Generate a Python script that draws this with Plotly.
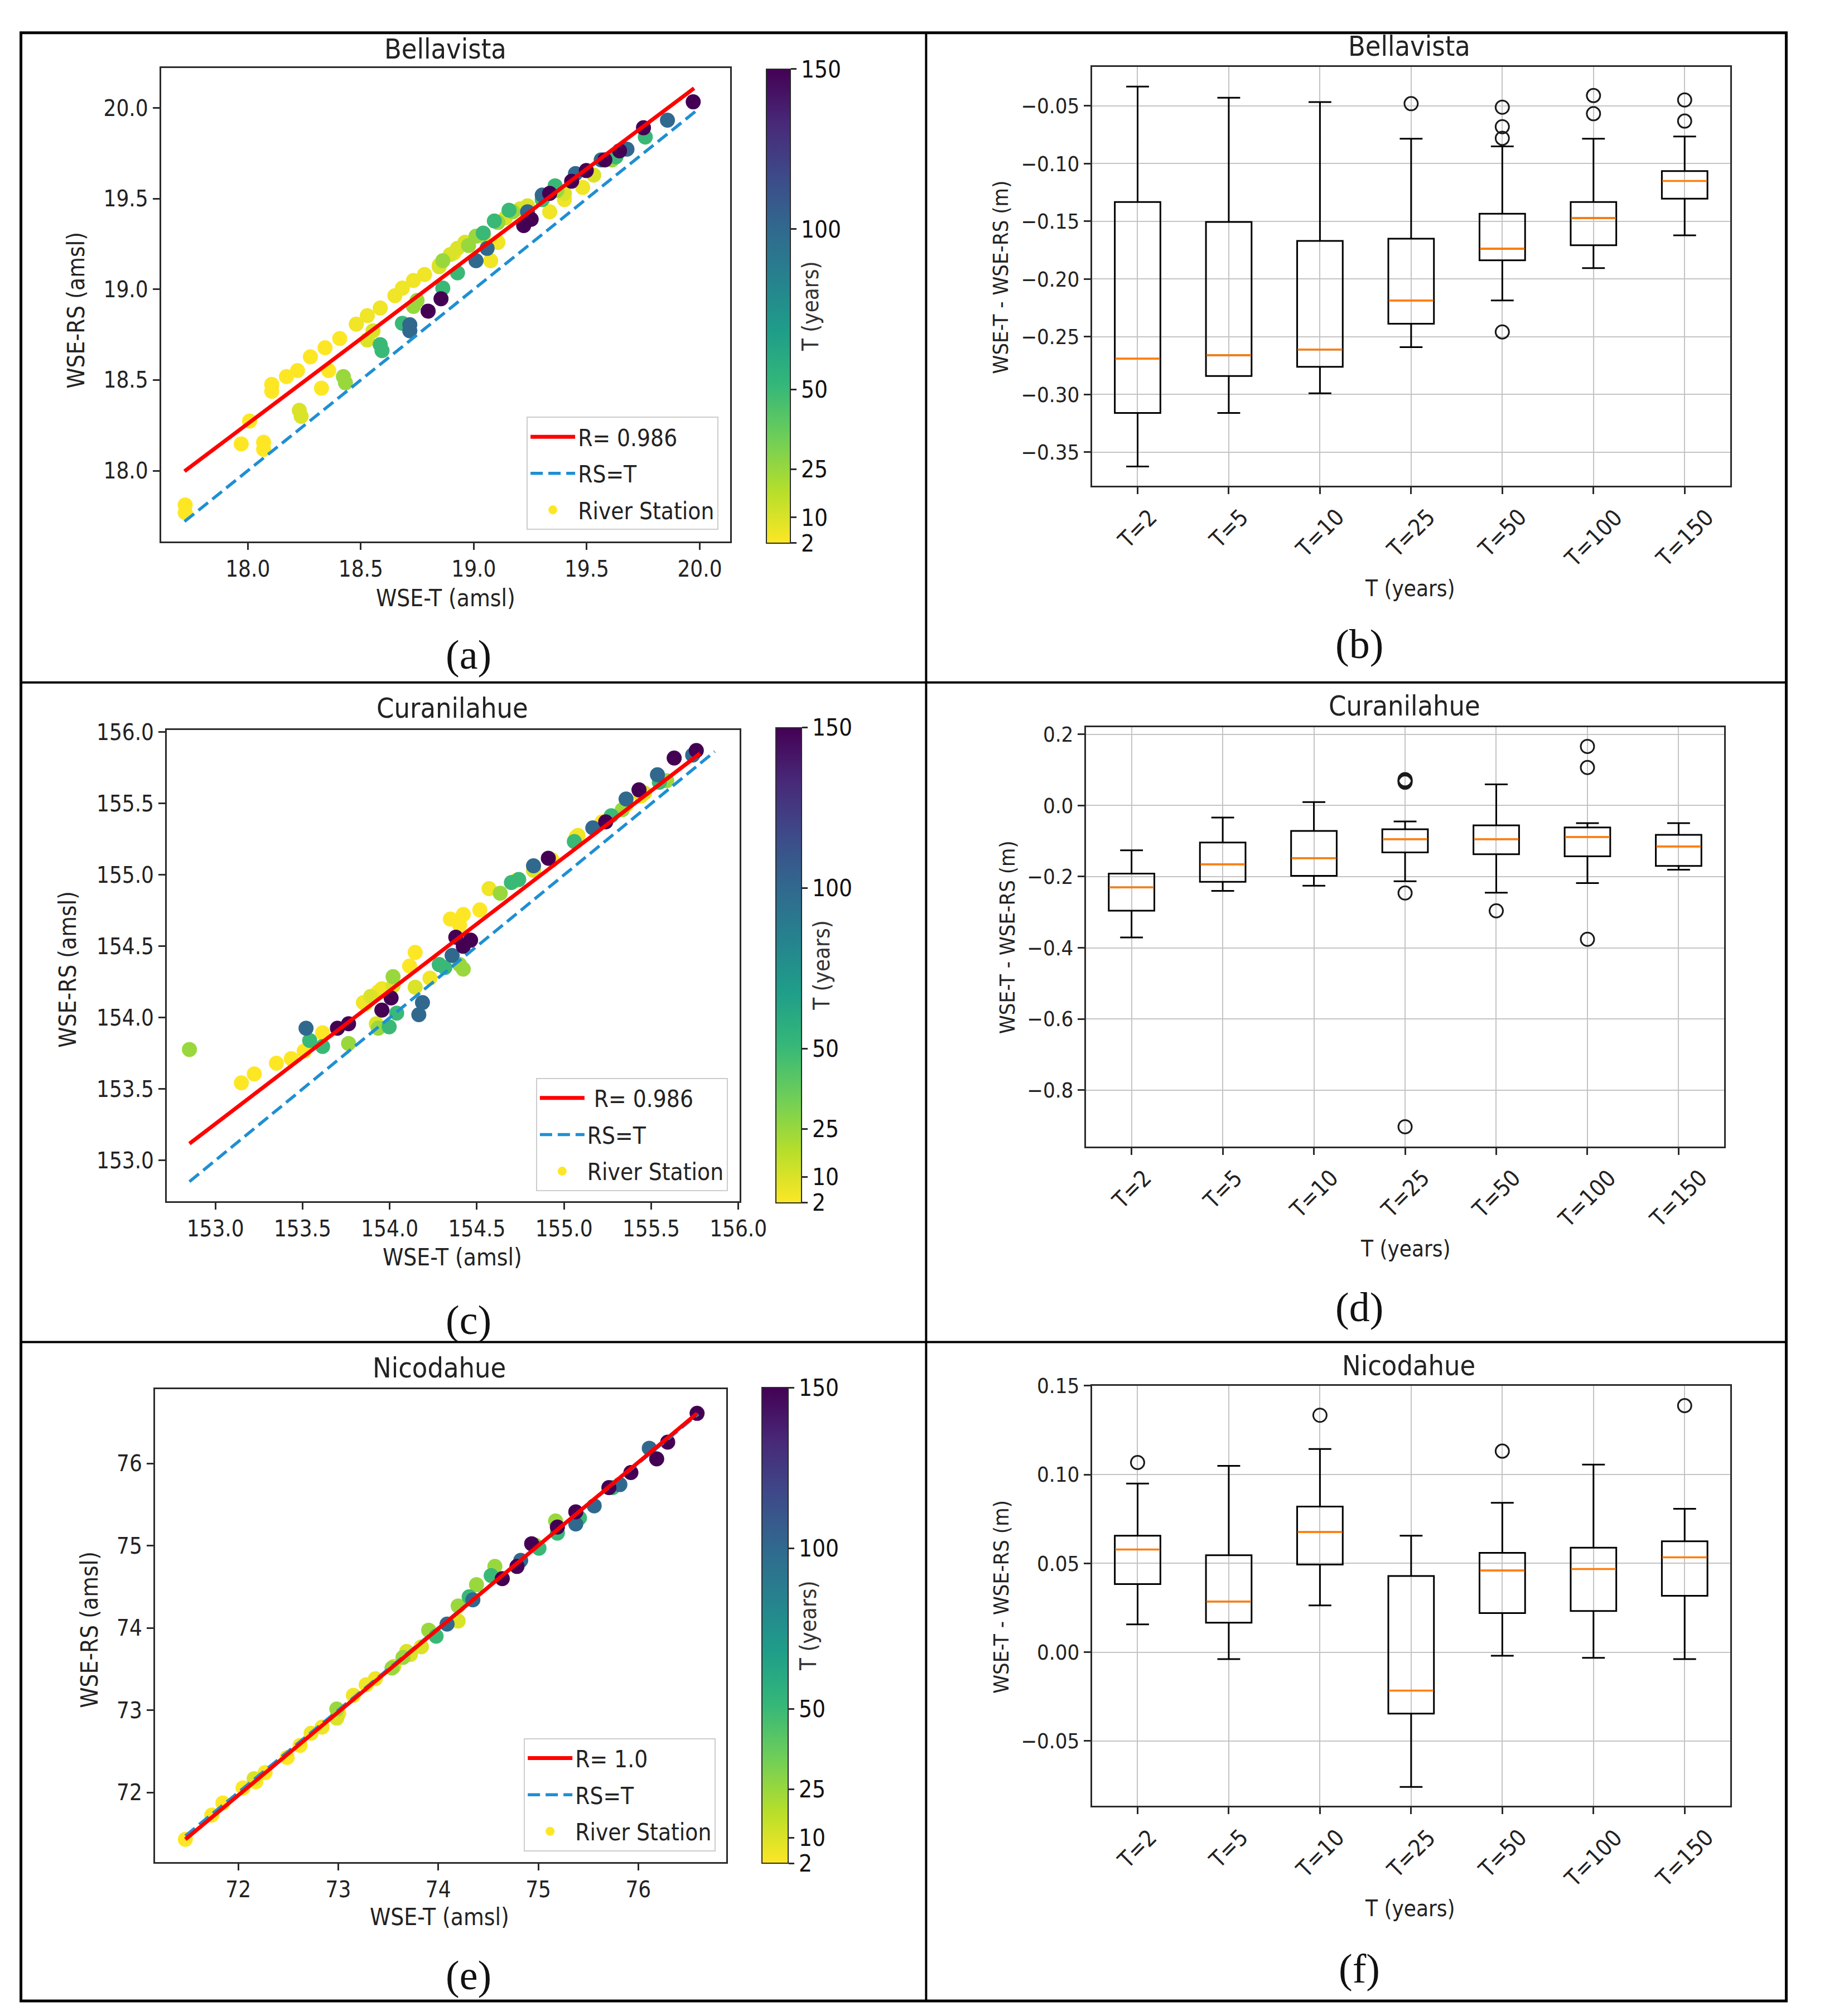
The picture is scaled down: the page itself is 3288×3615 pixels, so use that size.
import plotly.graph_objects as go

# ---------------------------------------------------------------- geometry helpers
W, H, OFF = 3272, 3599, 8


def px(X):
    return (X - OFF) / W


def py(Y):
    return 1 - (Y - OFF) / H


FONT = "DejaVu Sans Condensed, Liberation Sans Narrow, DejaVu Sans, sans-serif"
SERIF = "Liberation Serif, DejaVu Serif, serif"
TXT = "#222222"
TICK = 40

# ---------------------------------------------------------------- data
categories = ["T=2", "T=5", "T=10", "T=25", "T=50", "T=100", "T=150"]
cbar_ticks = [2, 10, 25, 50, 100, 150]

# Bellavista scatter (WSE-T, WSE-RS, T)
bella_x = [17.723, 17.723, 17.971, 18.008, 18.070, 18.070, 18.106, 18.106, 18.171, 18.220, 18.277, 18.342, 18.326, 18.358, 18.407,
           18.480, 18.529, 18.586, 18.651, 18.684, 18.733, 18.782, 18.847, 18.912, 18.961, 19.075, 19.107, 19.336, 19.401, 19.482,
           18.228, 18.236, 18.529, 18.554, 18.847, 18.896, 18.928, 18.961, 19.042, 19.140, 19.205, 19.238, 19.401, 19.531,
           18.423, 18.432, 18.733, 18.749, 18.863, 18.977, 19.010, 19.107, 19.173, 19.368, 19.612,
           18.586, 18.594, 18.684, 18.863, 18.928, 19.042, 19.091, 19.156, 19.303, 19.360, 19.629, 19.759,
           18.717, 18.717, 19.010, 19.059, 19.238, 19.303, 19.450, 19.564, 19.678, 19.857,
           18.798, 18.855, 19.221, 19.254, 19.336, 19.433, 19.498, 19.580, 19.645, 19.751, 19.971]
bella_y = [17.811, 17.769, 18.148, 18.274, 18.157, 18.118, 18.476, 18.438, 18.519, 18.552, 18.628, 18.678, 18.455, 18.552, 18.729,
           18.808, 18.855, 18.897, 18.965, 19.007, 19.049, 19.082, 19.133, 19.200, 19.251, 19.158, 19.259, 19.428, 19.495, 19.562,
           18.333, 18.300, 18.721, 18.771, 19.125, 19.192, 19.226, 19.259, 19.293, 19.394, 19.444, 19.461, 19.529, 19.630,
           18.519, 18.485, 18.906, 18.939, 19.158, 19.242, 19.293, 19.369, 19.428, 19.545, 19.714,
           18.695, 18.662, 18.813, 19.007, 19.091, 19.310, 19.377, 19.436, 19.495, 19.571, 19.731, 19.840,
           18.805, 18.771, 19.158, 19.226, 19.428, 19.520, 19.638, 19.714, 19.773, 19.933,
           18.880, 18.948, 19.352, 19.386, 19.529, 19.596, 19.655, 19.714, 19.764, 19.891, 20.034]
bella_T = [2] * 15 + [5] * 15 + [10] * 14 + [25] * 11 + [50] * 12 + [100] * 10 + [150] * 11
bella_fit_x = [17.72, 19.975]
bella_fit_y = [17.997, 20.109]
bella_ident = [17.72, 19.98]

# Curanilahue scatter
cura_x = [153.149, 153.223, 153.350, 153.435, 153.509, 153.615, 153.860, 153.934, 154.114, 154.146, 154.348, 154.422, 154.401,
          154.517, 154.719, 154.931, 155.069, 155.218, 155.356,
          153.849, 153.955, 154.231, 154.570, 155.080, 155.441,
          153.891, 154.019, 154.146, 153.923, 154.825, 155.462,
          152.851, 153.764, 154.019, 154.401, 154.422, 154.634, 155.334, 155.589, 153.934,
          153.541, 153.615, 153.997, 154.040, 154.284, 154.316, 154.698, 154.740, 155.059, 155.271, 155.547,
          153.520, 154.188, 154.167, 154.358, 154.825, 155.165, 155.356, 155.536, 155.738,
          153.700, 153.764, 153.955, 154.008, 154.379, 154.422, 154.464, 154.910, 155.239, 155.430, 155.632, 155.759]
cura_y = [153.543, 153.606, 153.681, 153.713, 153.766, 153.894, 154.096, 154.181, 154.362, 154.457, 154.691, 154.723, 154.649,
          154.755, 154.957, 155.106, 155.266, 155.372, 155.489,
          154.106, 154.202, 154.277, 154.904, 155.277, 155.553,
          154.149, 154.223, 154.213, 153.957, 155.032, 155.574,
          153.777, 153.819, 154.287, 154.372, 154.340, 154.872, 155.457, 155.660, 153.926,
          153.840, 153.798, 153.936, 154.032, 154.372, 154.351, 154.947, 154.968, 155.234, 155.415, 155.649,
          153.926, 154.106, 154.021, 154.436, 155.064, 155.330, 155.532, 155.702, 155.840,
          153.926, 153.957, 154.053, 154.138, 154.564, 154.500, 154.543, 155.117, 155.372, 155.596, 155.819, 155.872]
cura_T = [2] * 19 + [5] * 6 + [10] * 6 + [25] * 9 + [50] * 11 + [100] * 9 + [150] * 12
cura_fit_x = [152.851, 155.78]
cura_fit_y = [153.117, 155.851]
cura_ident = [152.851, 155.865]

# Nicodahue scatter
nico_x = [71.471, 71.735, 71.846, 72.048, 72.176, 72.268, 72.489, 72.618,
          72.728, 72.838, 73.004, 73.151, 73.279, 73.371,
          73.555, 73.684, 73.831, 74.199, 72.158, 72.985, 73.721,
          72.985, 73.537, 73.647, 73.904, 74.199, 74.382, 74.566, 74.971, 75.173,
          73.978, 74.309, 74.529, 75.007, 75.191, 75.412, 75.743,
          74.088, 74.346, 74.824, 75.375, 75.559, 75.816, 76.110,
          74.640, 74.787, 74.934, 75.191, 75.375, 75.706, 75.926, 76.184, 76.294, 76.588]
nico_y = [71.429, 71.724, 71.871, 72.055, 72.129, 72.240, 72.424, 72.571,
          72.719, 72.793, 72.959, 73.180, 73.309, 73.382,
          73.530, 73.714, 73.770, 74.083, 72.166, 72.903, 73.677,
          73.014, 73.512, 73.641, 73.972, 74.267, 74.525, 74.747, 75.005, 75.300,
          73.899, 74.378, 74.636, 74.968, 75.152, 75.336, 75.705,
          74.046, 74.341, 74.820, 75.263, 75.484, 75.742, 76.184,
          74.599, 74.747, 75.023, 75.226, 75.410, 75.705, 75.889, 76.055, 76.258, 76.608]
nico_T = [2] * 8 + [5] * 6 + [10] * 7 + [25] * 9 + [50] * 7 + [100] * 7 + [150] * 10
nico_fit_x = [71.471, 76.588]
nico_fit_y = [71.429, 76.608]
nico_ident = [71.471, 76.60]

# Box-plot statistics of WSE-T - WSE-RS (m)
bella_q1 = [-0.316, -0.284, -0.276, -0.2387, -0.1838, -0.1707, -0.1303]
bella_med = [-0.269, -0.266, -0.261, -0.2185, -0.1737, -0.1472, -0.115]
bella_q3 = [-0.1333, -0.1505, -0.167, -0.165, -0.1434, -0.1333, -0.1064]
bella_lo = [-0.3624, -0.316, -0.299, -0.259, -0.2185, -0.1905, -0.1621]
bella_hi = [-0.0332, -0.0429, -0.0466, -0.0784, -0.0851, -0.0784, -0.0765]
bella_out_cat = ["T=25", "T=50", "T=50", "T=50", "T=50", "T=100", "T=100", "T=150", "T=150"]
bella_out_val = [-0.048, -0.0511, -0.068, -0.078, -0.2458, -0.041, -0.0567, -0.0448, -0.0631]

cura_q1 = [-0.2957, -0.2145, -0.1976, -0.132, -0.137, -0.143, -0.1697]
cura_med = [-0.230, -0.165, -0.148, -0.0945, -0.0945, -0.0885, -0.115]
cura_q3 = [-0.1915, -0.104, -0.0715, -0.0667, -0.0558, -0.0618, -0.0824]
cura_lo = [-0.371, -0.24, -0.2255, -0.213, -0.245, -0.218, -0.1806]
cura_hi = [-0.126, -0.034, 0.0097, -0.045, 0.0594, -0.0497, -0.0497]
cura_out_cat = ["T=25", "T=25", "T=25", "T=25", "T=25", "T=50", "T=100", "T=100", "T=100"]
cura_out_val = [0.0727, 0.069, 0.0655, -0.246, -0.903, -0.296, 0.166, 0.1067, -0.376]

nico_q1 = [0.0383, 0.0166, 0.0493, -0.0346, 0.022, 0.0232, 0.0317]
nico_med = [0.0578, 0.0285, 0.0676, -0.0217, 0.0459, 0.0468, 0.0534]
nico_q3 = [0.0656, 0.0546, 0.082, 0.0429, 0.0559, 0.0588, 0.0624]
nico_lo = [0.0156, -0.0039, 0.0263, -0.0759, -0.002, -0.0032, -0.0039]
nico_hi = [0.0949, 0.1049, 0.1144, 0.0656, 0.0841, 0.1056, 0.0807]
nico_out_cat = ["T=2", "T=10", "T=50", "T=150"]
nico_out_val = [0.1068, 0.1334, 0.1132, 0.1388]

# ---------------------------------------------------------------- figure
fig = go.Figure()
layout = {}
annotations = []


def axis_base(size=TICK):
    return dict(showline=True, linecolor="#2b2b2b", linewidth=3, mirror=True,
                ticks="outside", ticklen=12, tickwidth=2.5, tickcolor="#2b2b2b",
                tickfont=dict(size=size, family=FONT, color=TXT),
                zeroline=False, showgrid=False)


def text(x, y, s, size=TICK, angle=0, family=FONT, color=TXT):
    annotations.append(dict(x=px(x), y=py(y), xref="paper", yref="paper", text=s,
                            showarrow=False, textangle=angle, xanchor="center", yanchor="middle",
                            font=dict(size=size, family=family, color=color)))


def scatter_panel(n, legname, xs, ys, ts, fitx, fity, ident, rlabel, g, xr, yr, dt, fmt):
    xa = "x" if n == 1 else "x%d" % n
    ya = "y" if n == 1 else "y%d" % n
    cbx0, cbx1, cby0, cby1 = g["cb"]
    fig.add_trace(go.Scatter(
        x=xs, y=ys, mode="markers", name="River Station", xaxis=xa, yaxis=ya,
        legend=legname, legendgroup="pts%d" % n, legendrank=3,
        marker=dict(color=ts, colorscale="Viridis", reversescale=True, cmin=2, cmax=150,
                    size=27, line=dict(width=0), showscale=True,
                    colorbar=dict(x=px(cbx0), xanchor="left", xpad=0,
                                  y=py((cby0 + cby1) / 2), yanchor="middle", ypad=0,
                                  len=cby1 - cby0, lenmode="pixels",
                                  thickness=cbx1 - cbx0, thicknessmode="pixels",
                                  outlinewidth=2, outlinecolor="#2b2b2b",
                                  tickvals=cbar_ticks, ticks="outside", ticklen=10, tickwidth=2.5,
                                  tickcolor="#2b2b2b",
                                  tickfont=dict(size=42, family=FONT, color="#111111"),
                                  title=dict(text="T (years)", side="right",
                                             font=dict(size=40, family=FONT, color="#333333"))))))
    fig.add_trace(go.Scatter(x=ident, y=ident, mode="lines", name="RS=T", xaxis=xa, yaxis=ya,
                             legend=legname, legendgroup="id%d" % n, legendrank=2,
                             line=dict(color="#1f8fd2", width=5.5, dash="22px,10px")))
    fig.add_trace(go.Scatter(x=fitx, y=fity, mode="lines", name=rlabel, xaxis=xa, yaxis=ya,
                             legend=legname, legendgroup="fit%d" % n, legendrank=1,
                             line=dict(color="#ff0000", width=7)))
    xax = axis_base()
    xax.update(domain=[px(g["x0"]), px(g["x1"])], range=xr, dtick=dt, tick0=0, tickformat=fmt, anchor=ya)
    yax = axis_base()
    yax.update(domain=[py(g["y1"]), py(g["y0"])], range=yr, dtick=dt, tick0=0, tickformat=fmt, anchor=xa)
    layout["xaxis" if n == 1 else "xaxis%d" % n] = xax
    layout["yaxis" if n == 1 else "yaxis%d" % n] = yax
    lx, ly = g["leg"]
    layout[legname] = dict(x=px(lx), y=py(ly), xanchor="right", yanchor="bottom",
                           traceorder="grouped", tracegroupgap=8,
                           bgcolor="rgba(255,255,255,0.85)", bordercolor="#cccccc", borderwidth=2,
                           itemwidth=80, font=dict(size=42, family=FONT, color=TXT))


def box_panel(n, q1, med, q3, lo, hi, out_cat, out_val, g, yr, dt, fmt):
    xa = "x%d" % n
    ya = "y%d" % n
    pos = [i + 1 for i in range(len(categories))]
    fig.add_trace(go.Box(x=pos, q1=q1, median=med, q3=q3, lowerfence=lo, upperfence=hi,
                         xaxis=xa, yaxis=ya, width=0.5, whiskerwidth=0.5, boxpoints=False,
                         line=dict(color="black", width=3), fillcolor="rgba(0,0,0,0)",
                         showlegend=False, hoverinfo="skip"))
    mx, my = [], []
    for p, m in zip(pos, med):
        mx += [p - 0.245, p + 0.245, None]
        my += [m, m, None]
    fig.add_trace(go.Scatter(x=mx, y=my, mode="lines", xaxis=xa, yaxis=ya, showlegend=False,
                             line=dict(color="#ff7f0e", width=3.5), hoverinfo="skip"))
    ox = [categories.index(c) + 1 for c in out_cat]
    fig.add_trace(go.Scatter(x=ox, y=out_val, mode="markers", xaxis=xa, yaxis=ya, showlegend=False,
                             marker=dict(symbol="circle-open", size=24, color="#1a1a1a",
                                         line=dict(width=3))))
    xax = axis_base()
    xax.update(domain=[px(g["x0"]), px(g["x1"])], range=[0.5, 7.5], tickvals=pos,
               showticklabels=False, showgrid=True, gridcolor="#c4c4c4", gridwidth=2, anchor=ya)
    yax = axis_base(38)
    yax.update(domain=[py(g["y1"]), py(g["y0"])], range=yr, dtick=dt, tick0=0, tickformat=fmt,
               showgrid=True, gridcolor="#c4c4c4", gridwidth=2, anchor=xa)
    layout["xaxis%d" % n] = xax
    layout["yaxis%d" % n] = yax
    for p, c in zip(pos, categories):
        annotations.append(dict(x=p, y=py(g["y1"] + 30), xref=xa, yref="paper", text=c,
                                showarrow=False, textangle=-45, xanchor="center", yanchor="top",
                                font=dict(size=41, family=FONT, color=TXT)))


# ---------------------------------------------------------------- panels
GA = dict(x0=293, x1=1329, y0=101, y1=955, cb=(1395, 1438, 105, 955), leg=(1308, 934))
GC = dict(x0=303.5, x1=1346, y0=1295, y1=2145, cb=(1412, 1458, 1293, 2145), leg=(1325, 2127))
GE = dict(x0=282, x1=1322, y0=2484, y1=3337, cb=(1387.5, 1434, 2484, 3337), leg=(1303, 3318))
GB = dict(x0=1988, x1=3150, y0=99, y1=854)
GD = dict(x0=1977, x1=3139, y0=1289.5, y1=2046)
GF = dict(x0=1988, x1=3150, y0=2478, y1=3236)

scatter_panel(1, "legend", bella_x, bella_y, bella_T, bella_fit_x, bella_fit_y, bella_ident, "R= 0.986",
              GA, [17.616, 20.134], [17.609, 20.219], 0.5, ".1f")
scatter_panel(3, "legend2", cura_x, cura_y, cura_T, cura_fit_x, cura_fit_y, cura_ident, " R= 0.986",
              GC, [152.721, 156.006], [152.714, 156.015], 0.5, ".1f")
scatter_panel(5, "legend3", nico_x, nico_y, nico_T, nico_fit_x, nico_fit_y, nico_ident, "R= 1.0",
              GE, [71.167, 76.879], [71.155, 76.903], 1, "d")

box_panel(2, bella_q1, bella_med, bella_q3, bella_lo, bella_hi, bella_out_cat, bella_out_val,
          GB, [-0.379, -0.0164], 0.05, ".2f")
box_panel(4, cura_q1, cura_med, cura_q3, cura_lo, cura_hi, cura_out_cat, cura_out_val,
          GD, [-0.958, 0.2206], 0.2, ".1f")
box_panel(6, nico_q1, nico_med, nico_q3, nico_lo, nico_hi, nico_out_cat, nico_out_val,
          GF, [-0.0866, 0.15], 0.05, ".2f")

# titles
for (x, y, s) in [(811, 66, "Bellavista"), (2566, 61, "Bellavista"),
                  (823, 1256, "Curanilahue"), (2557, 1252, "Curanilahue"),
                  (800, 2446, "Nicodahue"), (2565, 2442, "Nicodahue")]:
    text(x, y, s, size=50)

# axis titles
for (x, y) in [(811, 1057), (823, 2246), (800, 3436)]:
    text(x, y, "WSE-T (amsl)", size=42)
for (x, y) in [(139, 537), (123, 1727), (163, 2918)]:
    text(x, y, "WSE-RS (amsl)", size=42, angle=-90)
for (x, y) in [(2567, 1039), (2559, 2231), (2567, 3421)]:
    text(x, y, "T (years)", size=40)
for (x, y) in [(1822, 478), (1834, 1669), (1822, 2859)]:
    text(x, y, "WSE-T - WSE-RS (m)", size=38, angle=-90)

# panel labels
for (x, y, s) in [(853, 1159, "(a)"), (2475, 1140, "(b)"), (853, 2359, "(c)"),
                  (2475, 2336, "(d)"), (853, 3542, "(e)"), (2475, 3530, "(f)")]:
    text(x, y, s, size=74, family=SERIF, color="#111111")

# frame lines
shapes = [dict(type="rect", xref="paper", yref="paper", x0=px(38), x1=px(3252), y0=py(3588), y1=py(37),
               line=dict(color="black", width=5))]
shapes.append(dict(type="line", xref="paper", yref="paper", x0=px(1686), x1=px(1686), y0=py(3588), y1=py(37),
                   line=dict(color="black", width=4)))
for yy in (1209, 2399):
    shapes.append(dict(type="line", xref="paper", yref="paper", x0=px(38), x1=px(3252), y0=py(yy), y1=py(yy),
                       line=dict(color="black", width=4)))

fig.update_layout(**layout)
fig.update_layout(width=W, height=H, autosize=False, margin=dict(l=0, r=0, t=0, b=0, pad=0),
                  paper_bgcolor="white", plot_bgcolor="white",
                  font=dict(family=FONT, size=TICK, color=TXT),
                  annotations=annotations, shapes=shapes, showlegend=True)

fig.write_html("out.html")
